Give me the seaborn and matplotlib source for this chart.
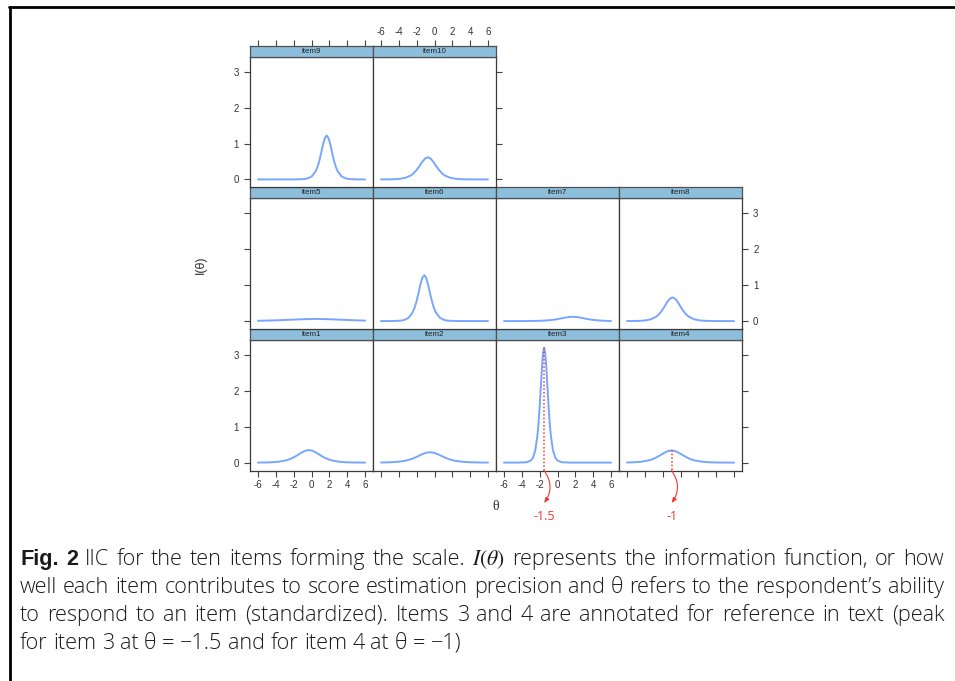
import matplotlib
matplotlib.use("Agg")
import matplotlib.pyplot as plt
from matplotlib.lines import Line2D
import numpy as np
import pandas as pd
import seaborn as sns

# ---------------- data ----------------
theta_ticks = [-6, -4, -2, 0, 2, 4, 6]
info_ticks = [0, 1, 2, 3]

item1_theta = [-6.0, -5.39, -4.54, -3.69, -2.84, -2.42, -1.99, -1.57, -1.15, -0.72, -0.30,
               0.12, 0.55, 0.97, 1.39, 1.82, 2.24, 3.09, 3.94, 4.79, 6.0]
item1_info = [0.002, 0.003, 0.009, 0.025, 0.063, 0.098, 0.147, 0.209, 0.275, 0.329, 0.350,
              0.329, 0.275, 0.209, 0.147, 0.098, 0.063, 0.025, 0.009, 0.003, 0.001]

item2_theta = [-6.0, -5.14, -4.21, -3.29, -2.82, -2.36, -1.89, -1.43, -0.96, -0.50,
               -0.04, 0.43, 0.89, 1.36, 1.82, 2.29, 3.21, 4.14, 5.07, 6.0]
item2_info = [0.003, 0.008, 0.021, 0.052, 0.081, 0.122, 0.173, 0.228, 0.273, 0.290,
              0.273, 0.228, 0.173, 0.122, 0.081, 0.052, 0.021, 0.008, 0.003, 0.001]

item3_theta = [-6.0, -4.5, -3.5, -3.0, -2.75, -2.5, -2.25, -2.125, -2.0, -1.875, -1.75, -1.625, -1.5,
               -1.375, -1.25, -1.125, -1.0, -0.875, -0.75, -0.5, -0.25, 0.0, 0.5, 1.5, 6.0]
item3_info = [0.0, 0.0003, 0.010, 0.058, 0.140, 0.332, 0.758, 1.108, 1.563, 2.099, 2.638, 3.053, 3.21,
              3.053, 2.638, 2.099, 1.563, 1.108, 0.758, 0.332, 0.140, 0.058, 0.010, 0.0003, 0.0]

item4_theta = [-6.0, -5.29, -4.43, -3.57, -3.14, -2.72, -2.29, -1.86, -1.43, -1.0,
               -0.57, -0.14, 0.29, 0.72, 1.14, 1.57, 2.43, 3.29, 4.15, 6.0]
item4_info = [0.004, 0.009, 0.024, 0.062, 0.095, 0.143, 0.203, 0.267, 0.320, 0.340,
              0.320, 0.267, 0.203, 0.143, 0.095, 0.062, 0.024, 0.009, 0.003, 0.000]

item5_theta = [-6.0, -5.62, -4.60, -3.58, -2.56, -1.54, -0.52, 0.50, 1.52, 2.54, 3.56, 4.58, 5.60, 6.0]
item5_info = [0.009, 0.011, 0.017, 0.025, 0.036, 0.047, 0.056, 0.060, 0.056, 0.047, 0.036, 0.025, 0.017, 0.014]

item6_theta = [-6.0, -4.69, -3.80, -3.36, -2.92, -2.48, -2.26, -2.03, -1.81, -1.59, -1.37, -1.15,
               -0.93, -0.71, -0.49, -0.27, -0.05, 0.18, 0.62, 1.06, 1.50, 2.39, 6.0]
item6_info = [0.000, 0.002, 0.013, 0.034, 0.090, 0.231, 0.358, 0.538, 0.764, 1.006, 1.203, 1.280,
              1.203, 1.006, 0.764, 0.538, 0.358, 0.231, 0.090, 0.034, 0.013, 0.002, 0.000]

item7_theta = [-6.0, -3.76, -2.85, -1.94, -1.03, -0.57, -0.12, 0.34, 0.79, 1.25, 1.70,
               2.15, 2.61, 3.06, 3.52, 3.97, 4.43, 5.34, 6.0]
item7_info = [0.000, 0.001, 0.003, 0.008, 0.022, 0.034, 0.050, 0.072, 0.094, 0.113, 0.120,
              0.113, 0.094, 0.072, 0.050, 0.034, 0.022, 0.008, 0.004]

item8_theta = [-6.0, -5.82, -4.59, -3.98, -3.36, -2.75, -2.44, -2.13, -1.82, -1.52, -1.21, -0.90,
               -0.59, -0.28, 0.02, 0.33, 0.64, 0.95, 1.56, 2.18, 2.79, 4.02, 6.0]
item8_info = [0.001, 0.001, 0.007, 0.018, 0.047, 0.119, 0.185, 0.277, 0.394, 0.519, 0.620, 0.660,
              0.620, 0.519, 0.394, 0.277, 0.185, 0.119, 0.047, 0.018, 0.007, 0.001, 0.000]

item9_theta = [-6.0, -1.63, -0.80, -0.38, 0.03, 0.45, 0.66, 0.87, 1.08, 1.28, 1.49, 1.70,
               1.91, 2.12, 2.33, 2.53, 2.74, 2.95, 3.37, 3.78, 4.20, 5.03, 6.0]
item9_info = [0.000, 0.002, 0.012, 0.033, 0.087, 0.223, 0.344, 0.517, 0.734, 0.967, 1.156, 1.230,
              1.156, 0.967, 0.734, 0.517, 0.344, 0.223, 0.087, 0.033, 0.012, 0.002, 0.000]

item10_theta = [-6.0, -5.83, -4.56, -3.93, -3.29, -2.65, -2.34, -2.02, -1.70, -1.39, -1.07, -0.75,
                -0.43, -0.12, 0.20, 0.52, 0.84, 1.15, 1.79, 2.43, 3.06, 4.33, 6.0]
item10_info = [0.001, 0.001, 0.006, 0.017, 0.044, 0.112, 0.174, 0.260, 0.370, 0.488, 0.583, 0.620,
               0.583, 0.488, 0.370, 0.260, 0.174, 0.112, 0.044, 0.017, 0.006, 0.001, 0.000]

item_names = ["item1", "item2", "item3", "item4", "item5",
              "item6", "item7", "item8", "item9", "item10"]

annot_items = ["item3", "item4"]
annot_theta = [-1.5, -1.0]
annot_labels = ["-1.5", "-1"]

caption_bold = "Fig. 2"
caption_lines = [
    "IIC for the ten items forming the scale. $I(\\theta)$ represents the information function, or how",
    "well each item contributes to score estimation precision and \u03b8 refers to the respondent\u2019s ability",
    "to respond to an item (standardized). Items 3 and 4 are annotated for reference in text (peak",
    "for item 3 at \u03b8 = \u22121.5 and for item 4 at \u03b8 = \u22121)",
]

# ---------------- build table ----------------
_series = {
    "item1": (item1_theta, item1_info), "item2": (item2_theta, item2_info),
    "item3": (item3_theta, item3_info), "item4": (item4_theta, item4_info),
    "item5": (item5_theta, item5_info), "item6": (item6_theta, item6_info),
    "item7": (item7_theta, item7_info), "item8": (item8_theta, item8_info),
    "item9": (item9_theta, item9_info), "item10": (item10_theta, item10_info),
}
df = pd.concat(
    [pd.DataFrame({"item": n, "theta": _series[n][0], "info": _series[n][1]}) for n in item_names],
    ignore_index=True)

# ---------------- style ----------------
sns.set_theme(style="white")
plt.rcParams["font.family"] = ["Liberation Sans", "DejaVu Sans"]
plt.rcParams["mathtext.fontset"] = "stix"
plt.rcParams["axes.unicode_minus"] = False

W, H = 955, 681
fig = plt.figure(figsize=(W / 100, H / 100), dpi=100)
fig.patch.set_facecolor("white")


def frect(x, y, w, h):
    return [x / W, 1 - (y + h) / H, w / W, h / H]


col_x = [250, 373, 496, 619]
PW = 123
STRIP_H = 11
rows = {"top": (57.3, 130.0), "mid": (198.3, 130.7), "bot": (340.0, 130.5)}
placement = {
    "item9": ("top", 0), "item10": ("top", 1),
    "item5": ("mid", 0), "item6": ("mid", 1), "item7": ("mid", 2), "item8": ("mid", 3),
    "item1": ("bot", 0), "item2": ("bot", 1), "item3": ("bot", 2), "item4": ("bot", 3),
}
XLIM = (-6.9, 6.9)
YLIM = (-0.22, 3.42)
LINE_COL = "#78A6FF"
SPINE_COL = "#3a3a3a"
STRIP_COL = "#8DBEDB"
TICK_COL = "#444444"
LAB_COL = "#333333"
RED = "#F2392F"
TICK_FS = 7

axes = {}
for name in item_names:
    row, c = placement[name]
    top, h = rows[row]
    ax = fig.add_axes(frect(col_x[c], top, PW, h))
    sub = df[df["item"] == name]
    sns.lineplot(data=sub, x="theta", y="info", ax=ax, color=LINE_COL, linewidth=1.4,
                 estimator=None, legend=False)
    ax.set_xlim(*XLIM)
    ax.set_ylim(*YLIM)
    ax.set_xlabel("")
    ax.set_ylabel("")
    ax.set_facecolor("white")
    for s in ax.spines.values():
        s.set_color(SPINE_COL)
        s.set_linewidth(0.9)
    ax.tick_params(direction="out", length=4, width=0.8, color=TICK_COL,
                   labelsize=TICK_FS, labelcolor=LAB_COL)
    if row == "bot":
        ax.set_xticks(theta_ticks)
        ax.tick_params(axis="x", bottom=True, top=False, labelbottom=(c in (0, 2)), pad=2.5)
    else:
        ax.set_xticks([])
    ax.set_yticks(info_ticks)
    left = (c == 0)
    right = (row == "top" and c == 1) or (row != "top" and c == 3)
    ax.tick_params(axis="y", left=left, right=right,
                   labelleft=(left and row != "mid"),
                   labelright=(right and row == "mid"), pad=4)
    if not (left or right):
        ax.set_yticks([])
    # strip
    sax = fig.add_axes(frect(col_x[c], top - STRIP_H, PW, STRIP_H))
    sax.set_facecolor(STRIP_COL)
    sax.set_xlim(*XLIM)
    sax.set_yticks([])
    for s in sax.spines.values():
        s.set_color("#505050")
        s.set_linewidth(0.9)
    sax.text(0.5, 0.5, name, transform=sax.transAxes, ha="center", va="center",
             fontsize=5.8, color="#222222")
    if row == "top":
        sax.set_xticks(theta_ticks)
        sax.xaxis.set_ticks_position("top")
        sax.tick_params(axis="x", top=True, bottom=False, labeltop=(c == 1), labelbottom=False,
                        direction="out", length=4, width=0.8, color=TICK_COL,
                        labelsize=TICK_FS, labelcolor=LAB_COL, pad=2.5)
    else:
        sax.set_xticks([])
    axes[name] = ax

# axis titles
fig.text(201 / W, 1 - 265 / H, "I(\u03b8)", rotation=90, ha="center", va="center",
         fontsize=9, color=LAB_COL)
fig.text(496 / W, 1 - 506 / H, "\u03b8", ha="center", va="center", fontsize=10,
         color=LAB_COL, family=["Liberation Serif", "DejaVu Serif"])

# annotations for items 3 and 4
for name, th, lab in zip(annot_items, annot_theta, annot_labels):
    ax = axes[name]
    peak = float(df[df["item"] == name]["info"].max())
    ax.plot([th, th], [peak, YLIM[0]], color=RED, linestyle=(0, (1, 1.4)), linewidth=1.1,
            clip_on=False, zorder=5)
    ax.annotate("", xy=(th, H - 503), xycoords=("data", "figure pixels"),
                xytext=(th, YLIM[0]), textcoords="data",
                arrowprops=dict(arrowstyle="-|>,head_length=0.25,head_width=0.1",
                                color=RED, lw=0.8, shrinkA=0, shrinkB=0,
                                connectionstyle="arc3,rad=-0.35"),
                annotation_clip=False)
    ax.annotate(lab, xy=(th, H - 517), xycoords=("data", "figure pixels"),
                ha="center", va="center", fontsize=9, color=RED,
                family=["Open Sans", "DejaVu Sans"], annotation_clip=False)

# frame lines
fig.add_artist(Line2D([9 / W, 1.0], [1 - 6.5 / H, 1 - 6.5 / H], color="black", lw=2.0,
                      transform=fig.transFigure))
fig.add_artist(Line2D([10 / W, 10 / W], [0.0, 1 - 6.5 / H], color="black", lw=2.0,
                      transform=fig.transFigure))

# caption (justified lines 1-3, like the source)
cap_fam = ["Open Sans", "DejaVu Sans"]
bold_fam = ["Liberation Sans", "DejaVu Sans"]
CAP_COL = "#1a1a1a"
CAP_W = "light"
renderer = fig.canvas.get_renderer()
X0, X1 = 20, 944
probe = fig.text(0, 0, caption_lines[1], fontsize=12, family=cap_fam, fontweight=CAP_W)
wpx = probe.get_window_extent(renderer).width
probe.remove()
fs = 12 * 923 / wpx
line_base = [565, 593, 621, 649]


def word_tokens(line, bold_prefix=None):
    toks = []
    if bold_prefix:
        toks += [(w, True) for w in bold_prefix.split(" ")]
    toks += [(w, False) for w in line.split(" ")]
    return toks


def place_line(tokens, ybase, justify):
    arts = []
    for w, b in tokens:
        t = fig.text(0, 1 - ybase / H, w, fontsize=fs, ha="left", va="baseline", color=CAP_COL,
                     family=bold_fam if b else cap_fam, fontweight="bold" if b else CAP_W)
        arts.append((t, t.get_window_extent(renderer).width))
    total = sum(wd for _, wd in arts)
    sp = fig.text(0, 0, "a a", fontsize=fs, family=cap_fam, fontweight=CAP_W)
    sp2 = fig.text(0, 0, "aa", fontsize=fs, family=cap_fam, fontweight=CAP_W)
    space = sp.get_window_extent(renderer).width - sp2.get_window_extent(renderer).width
    sp.remove()
    sp2.remove()
    gap = (X1 - X0 - total) / (len(arts) - 1) if justify else space
    x = X0
    for t, wd in arts:
        t.set_x(x / W)
        x += wd + gap


place_line(word_tokens(caption_lines[0], caption_bold), line_base[0], True)
place_line(word_tokens(caption_lines[1]), line_base[1], True)
place_line(word_tokens(caption_lines[2]), line_base[2], True)
place_line(word_tokens(caption_lines[3]), line_base[3], False)

fig.savefig("out.png", dpi=100, facecolor="white")
